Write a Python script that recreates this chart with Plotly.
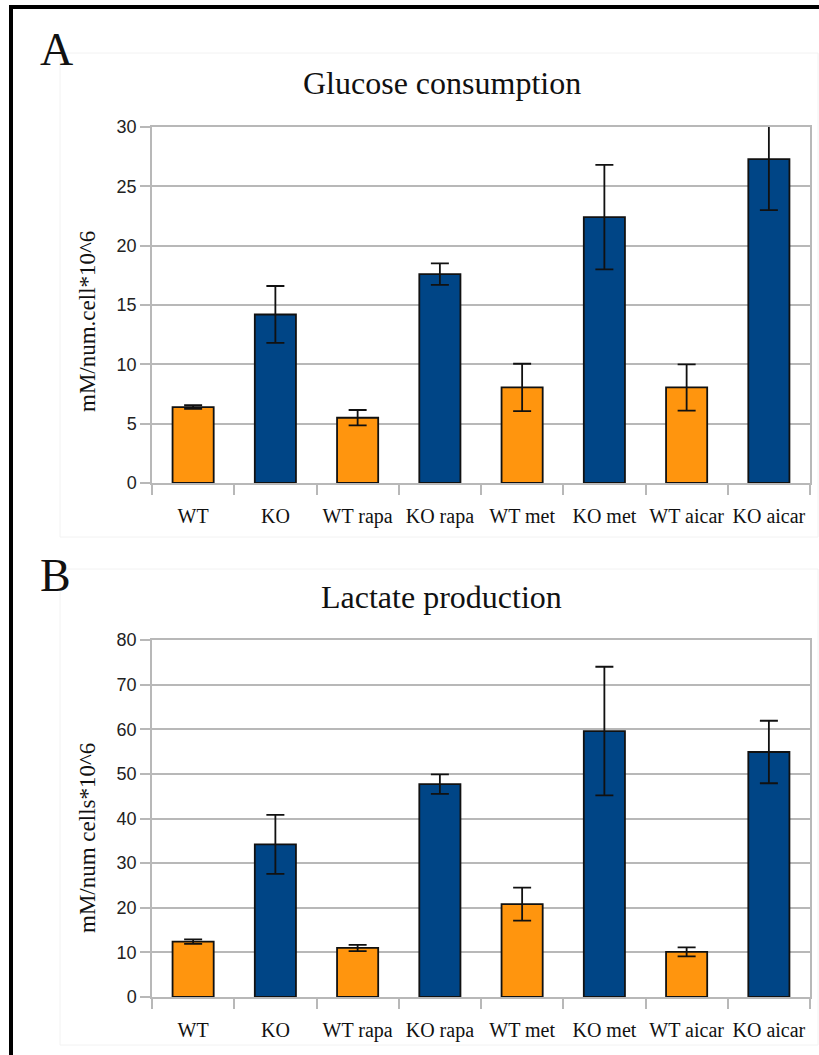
import plotly.graph_objects as go

# Treatment groups (x categories)
categories = ["WT", "KO", "WT rapa", "KO rapa", "WT met", "KO met", "WT aicar", "KO aicar"]

# Panel A: glucose consumption (mM/num.cell*10^6), mean and error
glucose_mean = [6.4, 14.2, 5.5, 17.6, 8.05, 22.4, 8.05, 27.3]
glucose_err = [0.15, 2.4, 0.65, 0.9, 2.0, 4.4, 1.95, 4.3]

# Panel B: lactate production (mM/num cells*10^6), mean and error
lactate_mean = [12.4, 34.2, 11.0, 47.7, 20.8, 59.6, 10.1, 54.9]
lactate_err = [0.5, 6.6, 0.7, 2.2, 3.7, 14.4, 1.0, 7.0]

y_ticks_a = [0, 5, 10, 15, 20, 25, 30]
y_ticks_b = [0, 10, 20, 30, 40, 50, 60, 70, 80]

W, H = 819, 1055
ORANGE = "#FF950E"
BLUE = "#004586"
GRID = "#b8b8b8"
SERIF = "Liberation Serif, Times New Roman, serif"
SANS = "Liberation Sans, Arial, sans-serif"

bar_colors = [ORANGE if c.startswith("WT") else BLUE for c in categories]


def px_x(x):
    return x / W


def px_y(y):
    return 1 - y / H


fig = go.Figure()

for mean, err, xa, ya in [
    (glucose_mean, glucose_err, "x", "y"),
    (lactate_mean, lactate_err, "x2", "y2"),
]:
    fig.add_trace(
        go.Bar(
            x=categories,
            y=mean,
            xaxis=xa,
            yaxis=ya,
            width=0.5,
            marker=dict(color=bar_colors, line=dict(color="#111111", width=1.8)),
            error_y=dict(
                type="data",
                array=err,
                visible=True,
                color="#111111",
                thickness=1.8,
                width=9,
            ),
            showlegend=False,
            hoverinfo="x+y",
        )
    )

xaxis_style = dict(
    type="category",
    categoryorder="array",
    categoryarray=categories,
    range=[-0.5, 7.5],
    showline=True,
    linecolor=GRID,
    linewidth=1.5,
    mirror=True,
    ticks="outside",
    tickson="boundaries",
    ticklen=10,
    tickwidth=1.5,
    tickcolor=GRID,
    showgrid=False,
    tickangle=0,
    automargin=False,
    tickfont=dict(family=SERIF, size=20, color="#111111"),
    ticklabelstandoff=14,
    fixedrange=True,
)

yaxis_style = dict(
    showline=True,
    linecolor=GRID,
    linewidth=1.5,
    mirror=True,
    ticks="outside",
    ticklen=10,
    tickwidth=1.5,
    tickcolor=GRID,
    showgrid=True,
    gridcolor=GRID,
    gridwidth=1.5,
    zeroline=False,
    automargin=False,
    tickfont=dict(family=SANS, size=18, color="#222222"),
    fixedrange=True,
)

fig.update_layout(
    width=W,
    height=H,
    autosize=False,
    margin=dict(l=0, r=0, t=0, b=0, pad=0),
    paper_bgcolor="white",
    plot_bgcolor="white",
    bargap=0.5,
    xaxis=dict(domain=[px_x(152), px_x(810)], anchor="y", **xaxis_style),
    yaxis=dict(
        domain=[px_y(483), px_y(127)],
        anchor="x",
        range=[0, 30],
        tickvals=y_ticks_a,
        **yaxis_style,
    ),
    xaxis2=dict(domain=[px_x(152), px_x(810)], anchor="y2", **xaxis_style),
    yaxis2=dict(
        domain=[px_y(997), px_y(640)],
        anchor="x2",
        range=[0, 80],
        tickvals=y_ticks_b,
        **yaxis_style,
    ),
)

annotations = [
    # chart titles
    dict(text="Glucose consumption", x=px_x(442), y=px_y(83),
         font=dict(family=SERIF, size=32, color="#111111")),
    dict(text="Lactate production", x=px_x(441), y=px_y(597),
         font=dict(family=SERIF, size=32, color="#111111")),
    # panel letters
    dict(text="A", x=px_x(56), y=px_y(49),
         font=dict(family=SERIF, size=46, color="#111111")),
    dict(text="B", x=px_x(55), y=px_y(575),
         font=dict(family=SERIF, size=46, color="#111111")),
    # y-axis titles
    dict(text="mM/num.cell*10^6", x=px_x(87), y=px_y(322), textangle=-90,
         font=dict(family=SERIF, size=23, color="#111111")),
    dict(text="mM/num cells*10^6", x=px_x(87), y=px_y(838), textangle=-90,
         font=dict(family=SERIF, size=23, color="#111111")),
]
for a in annotations:
    a.update(xref="paper", yref="paper", showarrow=False,
             xanchor="center", yanchor="middle")
fig.update_layout(annotations=annotations)

shapes = [
    # faint chart frames
    dict(type="rect", x0=px_x(60), x1=px_x(818), y0=px_y(537), y1=px_y(53),
         line=dict(color="#f2f2f2", width=1)),
    dict(type="rect", x0=px_x(60), x1=px_x(818), y0=px_y(1045), y1=px_y(569),
         line=dict(color="#f2f2f2", width=1)),
    # outer black border (top and left)
    dict(type="line", x0=px_x(9), x1=1, y0=px_y(7), y1=px_y(7),
         line=dict(color="black", width=4)),
    dict(type="line", x0=px_x(11), x1=px_x(11), y0=px_y(5), y1=0,
         line=dict(color="black", width=4)),
]
for s in shapes:
    s.update(xref="paper", yref="paper")
fig.update_layout(shapes=shapes)

fig.write_html("out.html")
